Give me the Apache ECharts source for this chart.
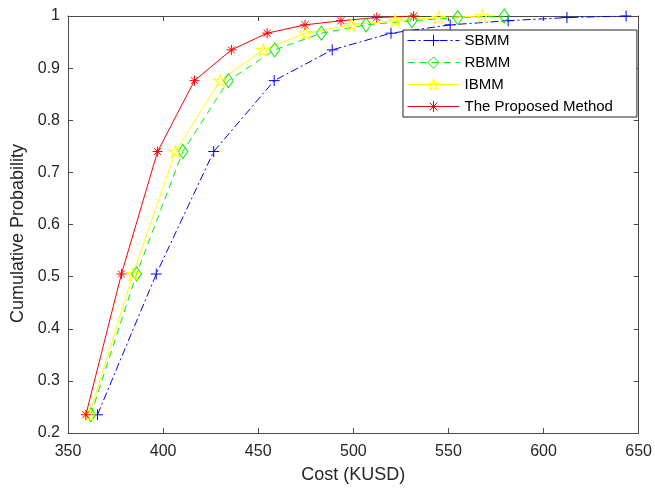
<!DOCTYPE html>
<html>
<head>
<meta charset="utf-8">
<script src="https://cdn.jsdelivr.net/npm/echarts@6/dist/echarts.min.js"></script>
<style>
html,body{margin:0;padding:0;background:#fff;}
#chart{width:655px;height:489px;}
</style>
</head>
<body>
<div id="chart"></div>
<script>
// Data
var probabilities = [0.235, 0.505, 0.74, 0.876, 0.935, 0.967, 0.983, 0.991, 0.997, 1.0];
var costSBMM = [365.5, 396.4, 426.6, 458.4, 488.9, 519.8, 550.9, 581.4, 612.3, 643.4];
var costRBMM = [362.0, 386.0, 410.4, 434.3, 458.7, 483.2, 506.7, 530.8, 554.9, 579.3];
var costIBMM = [361.2, 384.2, 406.5, 430.0, 452.6, 475.0, 498.9, 522.0, 544.8, 567.8];
var costProposed = [359.4, 378.1, 397.1, 416.5, 435.9, 454.7, 474.6, 493.5, 512.3, 531.7];
var seriesNames = ['SBMM', 'RBMM', 'IBMM', 'The Proposed Method'];
var xTicks = [350, 400, 450, 500, 550, 600, 650];
var yTicks = [0.2, 0.3, 0.4, 0.5, 0.6, 0.7, 0.8, 0.9, 1];

function pairs(xs, ys) {
  return xs.map(function (x, i) { return [x, ys[i]]; });
}

var PLUS = 'path://M0,5L10,5M5,0L5,10';
var DIAMOND = 'path://M5,0L10,7L5,14L0,7Z';
var STAR = 'path://M10,0L12.245,6.91L19.51,6.91L13.633,11.18L15.88,18.09L10,13.82L4.12,18.09L6.367,11.18L0.49,6.91L7.755,6.91Z';
var ASTER = 'path://M0,5L10,5M5,0L5,10M1.5,1.5L8.5,8.5M1.5,8.5L8.5,1.5';

var colors = ['#0000ff', '#00ee00', '#ffff00', '#ff0000'];
var dashes = [[8, 3, 2, 3], [7, 5], 'solid', 'solid'];
var symbols = [PLUS, DIAMOND, STAR, ASTER];
var sizes = [11, [10, 14], [13, 12], 10];
var costs = [costSBMM, costRBMM, costIBMM, costProposed];

function mkSeries(i) {
  return {
    name: seriesNames[i],
    type: 'line',
    data: pairs(costs[i], probabilities),
    symbol: symbols[i],
    symbolSize: sizes[i],
    showSymbol: true,
    showAllSymbol: true,
    z: 2,
    lineStyle: { color: colors[i], width: 1, type: dashes[i] },
    itemStyle: { color: 'rgba(255,255,255,0)', borderColor: colors[i], borderWidth: 1 },
    emphasis: { disabled: true },
    animation: false
  };
}

function mkLegendItem(i) {
  return {
    name: seriesNames[i],
    itemStyle: { color: 'rgba(255,255,255,0)', borderColor: colors[i], borderWidth: 1 },
    lineStyle: { color: colors[i], width: 1, type: dashes[i] }
  };
}

var axisColor = '#4a4a4a';
var textColor = '#262626';
var font = 'Liberation Sans, Arial, sans-serif';

var chart = echarts.init(document.getElementById('chart'), null, { renderer: 'canvas' });
chart.setOption({
  backgroundColor: '#ffffff',
  animation: false,
  grid: { left: 68, right: 14, top: 16, bottom: 51, containLabel: false },
  legend: {
    orient: 'vertical',
    left: 403,
    top: 30,
    data: [0, 1, 2, 3].map(mkLegendItem),
    itemWidth: 52,
    itemHeight: 14,
    itemGap: 7,
    itemTextGap: 5,
    padding: [3, 24, 3, 4],
    borderColor: '#262626',
    borderWidth: 1,
    backgroundColor: '#fff',
    z: 10,
    textStyle: { fontSize: 15, color: '#000', fontFamily: font }
  },
  xAxis: [{
    type: 'value',
    position: 'bottom',
    min: xTicks[0],
    max: xTicks[xTicks.length - 1],
    interval: 50,
    name: 'Cost (KUSD)',
    nameLocation: 'middle',
    nameGap: 33,
    nameTextStyle: { fontSize: 18, color: textColor, fontFamily: font },
    axisLine: { show: true, onZero: false, lineStyle: { color: axisColor, width: 1 } },
    axisTick: { show: true, inside: true, length: 5, lineStyle: { color: axisColor } },
    axisLabel: { fontSize: 16, color: textColor, margin: 11, fontFamily: font },
    splitLine: { show: false }
  }, {
    type: 'value',
    position: 'top',
    min: xTicks[0],
    max: xTicks[xTicks.length - 1],
    interval: 50,
    axisLine: { show: true, onZero: false, lineStyle: { color: axisColor, width: 1 } },
    axisTick: { show: true, inside: true, length: 5, lineStyle: { color: axisColor } },
    axisLabel: { show: false },
    splitLine: { show: false }
  }],
  yAxis: [{
    type: 'value',
    position: 'left',
    min: yTicks[0],
    max: yTicks[yTicks.length - 1],
    interval: 0.1,
    name: 'Cumulative Probability',
    nameLocation: 'middle',
    nameGap: 40,
    nameTextStyle: { fontSize: 18, color: textColor, fontFamily: font, padding: [0, 18, 0, 0] },
    axisLine: { show: true, onZero: false, lineStyle: { color: axisColor, width: 1 } },
    axisTick: { show: true, inside: true, length: 5, lineStyle: { color: axisColor } },
    axisLabel: { fontSize: 16, color: textColor, margin: 8, fontFamily: font },
    splitLine: { show: false }
  }, {
    type: 'value',
    position: 'right',
    min: yTicks[0],
    max: yTicks[yTicks.length - 1],
    interval: 0.1,
    axisLine: { show: true, onZero: false, lineStyle: { color: axisColor, width: 1 } },
    axisTick: { show: true, inside: true, length: 5, lineStyle: { color: axisColor } },
    axisLabel: { show: false },
    splitLine: { show: false }
  }],
  series: [0, 1, 2, 3].map(mkSeries)
});
</script>
</body>
</html>
